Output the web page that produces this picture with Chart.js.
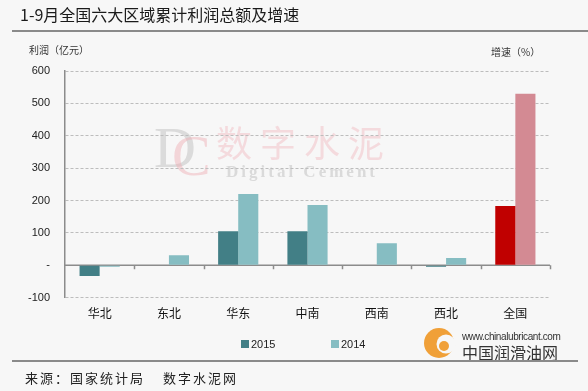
<!DOCTYPE html>
<html><head><meta charset="utf-8">
<script src="https://cdn.jsdelivr.net/npm/chart.js@4/dist/chart.umd.min.js"></script>
<style>html,body{margin:0;padding:0;background:#f7f7f7;overflow:hidden}#wrap{width:588px;height:391px}</style>
</head><body><div id="wrap"><canvas id="c" width="588" height="391"></canvas></div>
<script>
// ---- data ----
const categories = ['华北','东北','华东','中南','西南','西北','全国'];
const profit2015 = [-33, 0, 105, 105, 0, -5, 183];
const profit2014 = [-5, 31, 220, 186, 68, 22, 530];
const seriesLabels = ['2015','2014'];
const yTickValues = [-100, 0, 100, 200, 300, 400, 500, 600];
const titleText = '1-9月全国六大区域累计利润总额及增速';
const leftUnitText = '利润（亿元）';
const rightUnitText = '增速（%）';
const sourceText = ['来源：国家统计局', '数字水泥网'];

// ---- styles ----
const BG = '#f7f7f7';
const seriesColors = ['#427f86', '#86bdc2'];
const totalColors = ['#c00000', '#d38a93'];
const totalIndex = categories.indexOf('全国');

function colorFor(ds) {
  return (ctx) => (ctx.type === 'data' && ctx.dataIndex === totalIndex) ? totalColors[ds] : seriesColors[ds];
}

const decor = {
  id: 'decor',
  beforeDraw(chart) {
    const ctx = chart.ctx;
    ctx.save();
    ctx.fillStyle = BG;
    ctx.fillRect(0, 0, chart.width, chart.height);
    // watermark
    ctx.textBaseline = 'alphabetic';
    ctx.font = '58px "Liberation Serif"';
    ctx.fillStyle = 'rgba(185,185,185,0.45)';
    ctx.fillText('D', 154, 167);
    ctx.fillStyle = 'rgba(238,170,178,0.45)';
    ctx.fillText('C', 172, 175);
    ctx.font = '36px "Noto Sans CJK SC"';
    ctx.letterSpacing = '8px';
    ctx.textBaseline = 'middle';
    ctx.fillStyle = 'rgba(240,175,182,0.4)';
    ctx.fillText('数字水泥', 216, 143);
    ctx.font = 'bold 17px "Liberation Serif"';
    ctx.letterSpacing = '3px';
    ctx.fillStyle = 'rgba(175,175,175,0.4)';
    ctx.fillText('Digital Cement', 226, 173);
    ctx.restore();
  },
  beforeDatasetsDraw(chart) {
    const ctx = chart.ctx;
    const x = chart.scales.x, y = chart.scales.y;
    const y0 = y.getPixelForValue(0);
    const w = (x.right - x.left) / categories.length;
    ctx.save();
    ctx.strokeStyle = '#8c8c8c';
    ctx.lineWidth = 1.5;
    ctx.beginPath();
    ctx.moveTo(x.left, y0); ctx.lineTo(x.right, y0);
    for (let i = 1; i <= categories.length; i++) {
      const px = Math.round(x.left + i * w) + 0.5;
      ctx.moveTo(px, y0); ctx.lineTo(px, y0 + 4);
    }
    ctx.stroke();
    ctx.restore();
  },
  afterDraw(chart) {
    const ctx = chart.ctx;
    ctx.save();
    // title
    ctx.fillStyle = '#1a1a1a';
    ctx.font = '16px "Noto Sans CJK SC"';
    ctx.textBaseline = 'middle';
    ctx.fillText(titleText, 20, 15);
    ctx.fillStyle = '#8a8a8a';
    ctx.fillRect(12, 30, 576, 2);
    // unit labels
    ctx.fillStyle = '#333';
    ctx.font = '10px "Noto Sans CJK SC"';
    ctx.fillText(leftUnitText, 29, 50);
    ctx.fillText(rightUnitText, 491, 52);
    // legend
    ctx.font = '11px "Liberation Sans"';
    seriesLabels.forEach((lab, i) => {
      const lx = 241 + i * 90;
      ctx.fillStyle = seriesColors[i];
      ctx.fillRect(lx, 340, 8, 8);
      ctx.fillStyle = '#222';
      ctx.fillText(lab, lx + 10, 344.5);
    });
    // bottom separator
    ctx.fillStyle = '#8a8a8a';
    ctx.fillRect(12, 360, 566, 2);
    // source
    ctx.fillStyle = '#222';
    ctx.font = '13px "Noto Sans CJK SC"';
    ctx.letterSpacing = '2px';
    ctx.fillText(sourceText[0], 25, 378);
    ctx.fillText(sourceText[1], 163, 378);
    ctx.letterSpacing = '0px';
    // logo
    ctx.fillStyle = BG;
    ctx.fillRect(424, 326, 144, 34);
    ctx.fillStyle = '#f0a038';
    ctx.beginPath(); ctx.arc(439, 343, 15, 0, Math.PI * 2); ctx.fill();
    ctx.fillStyle = BG;
    ctx.beginPath(); ctx.arc(446, 344, 9.5, 0, Math.PI * 2); ctx.fill();
    ctx.fillStyle = '#f0a038';
    ctx.beginPath(); ctx.arc(444, 346, 5, 0, Math.PI * 2); ctx.fill();
    ctx.fillStyle = '#333';
    ctx.font = '10px "Liberation Sans"';
    ctx.letterSpacing = '-0.4px';
    ctx.fillText('www.chinalubricant.com', 462, 337);
    ctx.letterSpacing = '0px';
    ctx.font = '16px "Noto Sans CJK SC"';
    ctx.fillText('中国润滑油网', 462, 353);
    ctx.fillStyle = '#8a8a8a';
    ctx.fillRect(460, 360, 118, 2);
    ctx.restore();
  }
};

new Chart(document.getElementById('c'), {
  type: 'bar',
  data: {
    labels: categories,
    datasets: [
      { label: seriesLabels[0], data: profit2015, backgroundColor: colorFor(0), borderWidth: 0 },
      { label: seriesLabels[1], data: profit2014, backgroundColor: colorFor(1), borderWidth: 0 }
    ]
  },
  options: {
    responsive: false,
    animation: false,
    devicePixelRatio: 1,
    layout: { padding: { left: 12, right: 38, top: 71, bottom: 61 } },
    plugins: { legend: { display: false }, title: { display: false }, tooltip: { enabled: false } },
    datasets: { bar: { categoryPercentage: 0.58, barPercentage: 1.0 } },
    scales: {
      x: {
        grid: { display: false, drawTicks: false },
        border: { display: false },
        ticks: { color: '#111', font: { family: '"Noto Sans CJK SC"', size: 12 }, padding: 9 }
      },
      y: {
        min: -100, max: 600,
        afterBuildTicks: (s) => { s.ticks = yTickValues.map(v => ({ value: v })); },
        afterFit: (s) => { s.width = 53; },
        grid: { color: '#bdbdbd', lineWidth: 1, drawTicks: false },
        border: { display: true, color: '#8c8c8c', width: 1.5, dash: [3, 2] },
        ticks: {
          color: '#222', padding: 15,
          font: { family: '"Liberation Sans"', size: 11 },
          callback: (v) => v === 0 ? '-' : String(v)
        }
      }
    }
  },
  plugins: [decor]
});
</script></body></html>
